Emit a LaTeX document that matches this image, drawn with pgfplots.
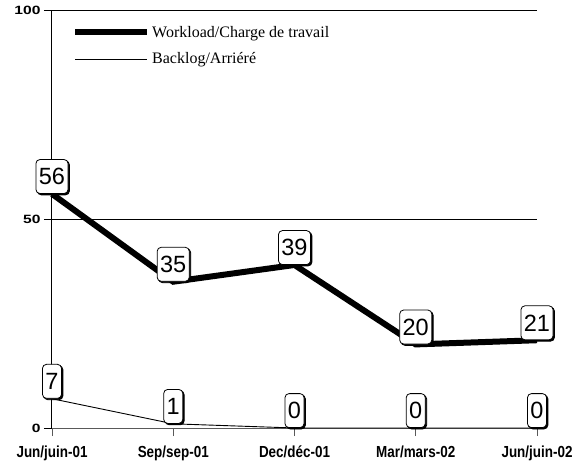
\documentclass[border=0pt]{standalone}
\usepackage{pgfplots}
\pgfplotsset{compat=1.18}
\usepackage{fontspec}
\setmainfont{Liberation Sans}
\newfontfamily\timesfont{Liberation Serif}
\newfontfamily\tickfont[FakeStretch=0.84]{Liberation Sans Bold}
\newfontfamily\ytickfont[FakeStretch=1.3]{Liberation Sans Bold}
\usetikzlibrary{shadows}
\begin{document}
\begin{tikzpicture}
\begin{axis}[name=ax, scale only axis, width=485bp, height=418bp,
  xmin=0, xmax=4, ymin=0, ymax=100,
  axis x line*=bottom, axis y line*=left,
  x axis line style={black!65, line width=1bp},
  y axis line style={black, line width=1bp},
  xtick={0,...,4},
  xticklabels={Jun/juin-01,Sep/sep-01,Dec/déc-01,Mar/mars-02,Jun/juin-02},
  ytick={0,50,100},
  ymajorgrids, grid style={black, line width=0.7bp},
  tick align=outside, major tick length=8bp,
  x tick style={black!65, line width=0.9bp},
  y tick style={black, line width=0.9bp},
  xticklabel style={font=\tickfont\fontsize{16bp}{18bp}\selectfont, yshift=-6bp},
  yticklabel style={font=\ytickfont\fontsize{12bp}{14bp}\selectfont},
  /pgf/number format/assume math mode=true,
  clip=false,
  no markers,
  nodes near coords,
  nodes near coords style={anchor=south, draw=black, line width=0.8bp, fill=white,
    rounded corners=4bp,
    drop shadow={shadow xshift=1.4bp, shadow yshift=-1.4bp, fill=black, opacity=1},
    inner xsep=3bp, inner ysep=0bp, minimum height=34bp,
    font=\fontsize{23.5bp}{26bp}\selectfont},
  legend style={draw=none, fill=none, at={(0,1)}, anchor=north west,
    xshift=17bp, yshift=-12bp, row sep=10bp,
    font=\timesfont\fontsize{16bp}{19bp}\selectfont},
  legend cell align=left,
  legend image code/.code={\draw[#1] (0bp,0bp) -- (59bp,0bp); \path (0bp,0bp) -- (72bp,0bp);},
]
\addplot[black, line width=6bp] coordinates {(0,56) (1,35) (2,39) (3,20) (4,21)};
\addlegendentry{Workload/Charge de travail}
\addplot[black, line width=0.9bp] coordinates {(0,7) (1,1) (2,0) (3,0) (4,0)};
\addlegendentry{Backlog/Arriéré}
\end{axis}
\pgfresetboundingbox
\path[use as bounding box] ([shift={(-52bp,-37bp)}]ax.south west) rectangle ([shift={(535bp,428bp)}]ax.south west);
\end{tikzpicture}
\end{document}
